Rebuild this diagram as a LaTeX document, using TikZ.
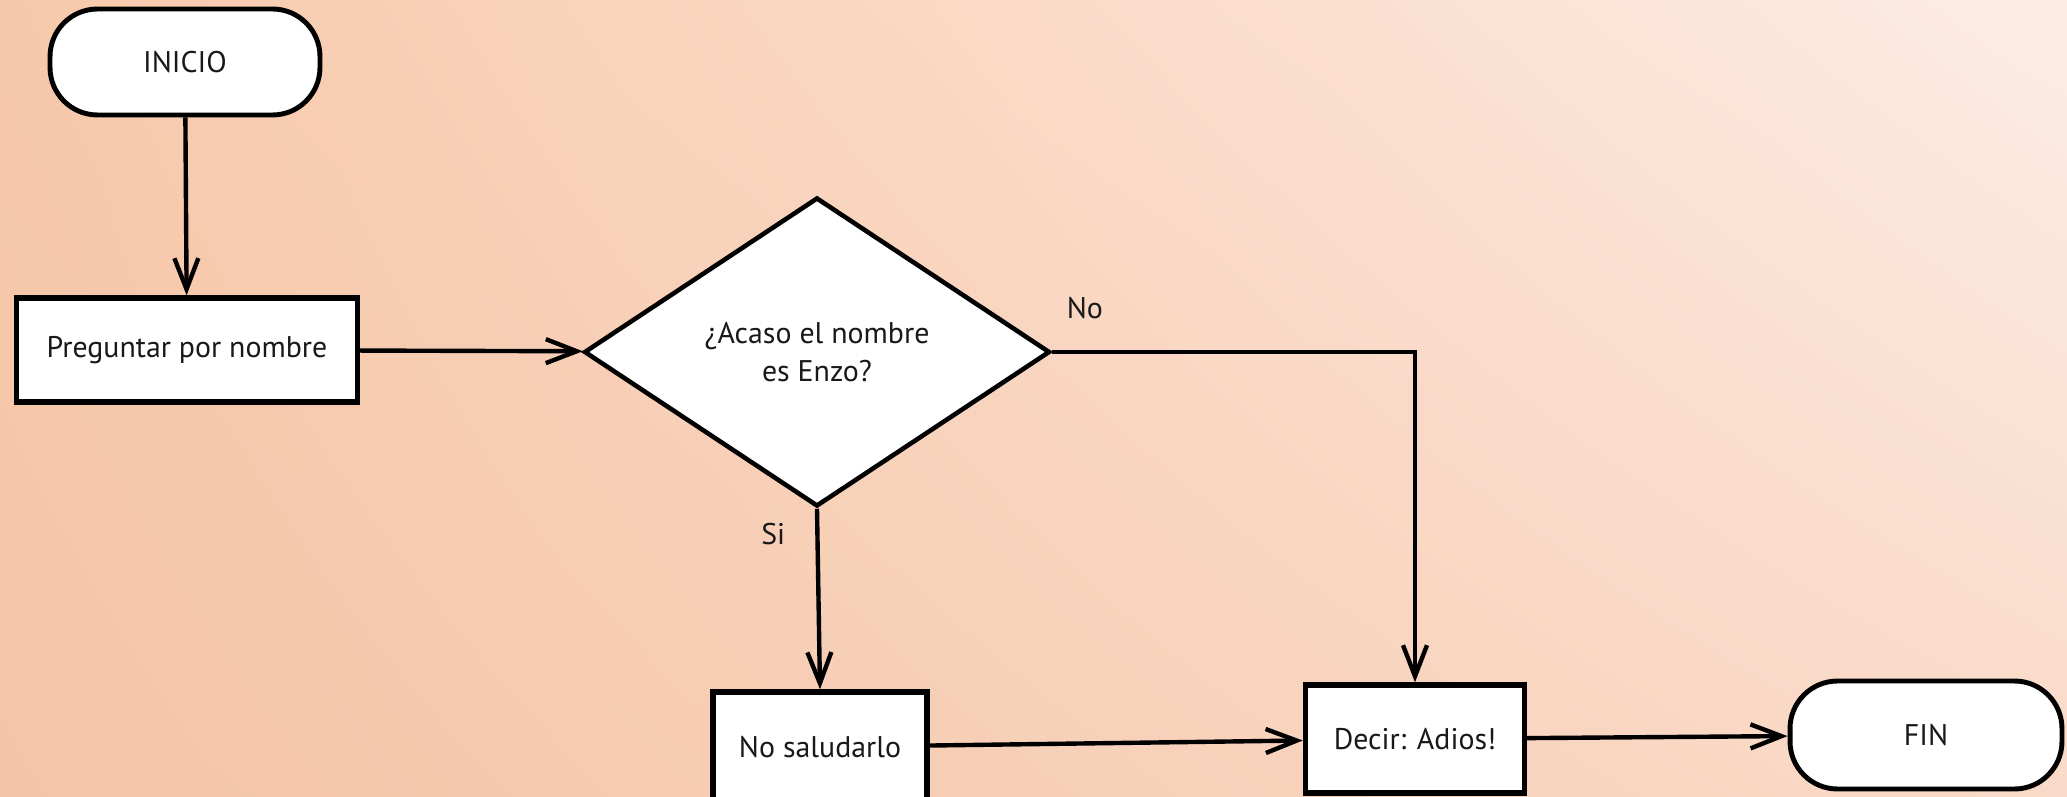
\documentclass[tikz,border=0pt]{standalone}
\usepackage{fontspec}
\setmainfont{PT Sans}
\usetikzlibrary{positioning, shapes.geometric, arrows.meta, shadings}
\usepackage{xcolor}
\definecolor{peachdark}{RGB}{245,196,166}
\definecolor{peachmid}{RGB}{247,201,171}
\definecolor{peachlight}{RGB}{253,236,228}
\definecolor{peachlow}{RGB}{249,218,200}
\definecolor{inkgray}{RGB}{25,25,25}

\tikzset{
  terminal/.style={rectangle, rounded corners=0.95cm, draw=black, line width=2.8pt, fill=white,
    minimum width=5.4cm, minimum height=2.12cm, text=inkgray, font=\fontsize{17}{20}\selectfont},
  proceso/.style={rectangle, draw=black, line width=3.1pt, fill=white,
    minimum height=2.12cm, text=inkgray, font=\fontsize{17}{20}\selectfont},
  decision/.style={diamond, draw=black, line width=2.6pt, fill=white, inner sep=0pt,
    minimum width=9.32cm, minimum height=6.18cm, align=center, text=inkgray,
    font=\fontsize{17}{22}\selectfont},
  flecha/.style={draw=black, line width=2.5pt, -{Straight Barb[length=0.62cm, width=0.48cm, line width=2.5pt]}},
  etiqueta/.style={inner sep=0pt, text=inkgray, font=\fontsize{17}{20}\selectfont}
}

\begin{document}
\begin{tikzpicture}[x=0.02cm, y=-0.02cm]

\useasboundingbox (0,0) rectangle (2067,797);
\shade[upper left=peachmid, lower left=peachdark, upper right=peachlight, lower right=peachlow] (0,0) rectangle (2067,797);

\node[terminal] (inicio) at (185,62) {INICIO};
\node[proceso, minimum width=6.82cm, minimum height=2.08cm] (preguntar) at (187,350) {Preguntar por nombre};
\node[decision] (enzo) at (817,352) {¿Acaso el nombre\\es Enzo?};
\node[proceso, minimum width=4.28cm, minimum height=2.2cm] (nosaludar) at (820,747) {No saludarlo};
\node[proceso, minimum width=4.38cm, minimum height=2.16cm] (adios) at (1415,739) {Decir: Adios!};
\node[terminal, minimum width=5.44cm, minimum height=2.16cm] (fin) at (1926,735) {FIN};

\draw[flecha] (inicio) -- (preguntar);
\draw[flecha] (preguntar) -- (enzo);
\draw[flecha] (enzo.east) -| node[etiqueta, pos=0.045, above=0.62cm] (no) {No} (adios.north);
\draw[flecha] (enzo.south) -- node[etiqueta, pos=0.14, left=0.6cm] (si) {Si} (nosaludar.north);
\draw[flecha] (nosaludar) -- (adios);
\draw[flecha] (adios) -- (fin);

\end{tikzpicture}
\end{document}
